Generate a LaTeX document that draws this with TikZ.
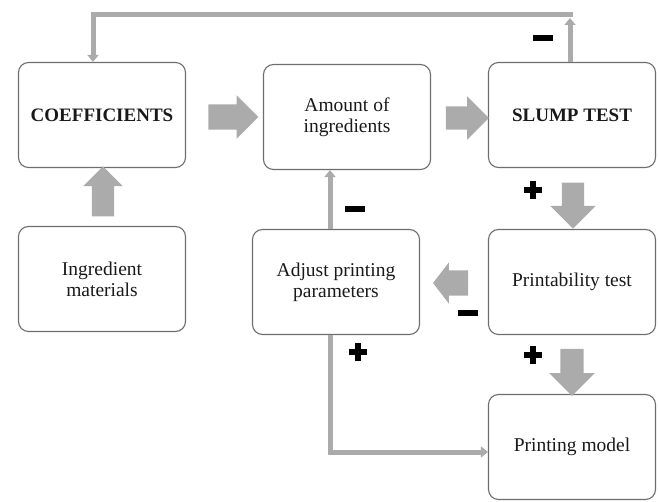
\documentclass[tikz,border=0pt]{standalone}
\usepackage{fontspec}
\setmainfont{Liberation Serif}
\usetikzlibrary{shapes.arrows,arrows.meta}
\definecolor{arrowgray}{HTML}{ABABAB}
\definecolor{boxgray}{HTML}{6E6E6E}
\tikzset{
  box/.style={draw=boxgray, line width=1.1pt, rounded corners=10pt, minimum width=167pt, minimum height=105pt, inner sep=2pt, align=center, font=\fontsize{19.5}{21}\selectfont, text=black!90},
  boldbox/.style={box, font=\bfseries\fontsize{19}{21}\selectfont},
  bigarrow/.style 2 args={single arrow, fill=arrowgray, draw=none, inner sep=#2, single arrow head extend=#1},
  conn/.style={draw=arrowgray, line width=5pt, -{Triangle[width=11pt,length=7pt]}},
  plussign/.pic={\fill[black] (-9,-2.8) rectangle (9,2.8); \fill[black] (-2.8,-9) rectangle (2.8,9);},
  minussign/.pic={\fill[black] (-10,-2.8) rectangle (10,2.8);}
}
\begin{document}
\begin{tikzpicture}[x=1pt,y=-1pt]
\useasboundingbox (0,0) rectangle (658,502);
% boxes
\node[boldbox] (coef) at (102,115) {COEFFICIENTS};
\node[box] (amount) at (347,117) {Amount of\\ingredients};
\node[boldbox] (slump) at (572,115) {SLUMP TEST};
\node[box] (ingr) at (102,279) {Ingredient\\materials};
\node[box] (adj) at (336,282) {Adjust printing\\parameters};
\node[box] (print) at (572,282) {Printability test};
\node[box] (model) at (572,447) {Printing model};
% block arrows
\node[bigarrow={9pt}{12.5pt}, minimum height=50pt, minimum width=43pt] (a1) at (227,117) {};
\node[bigarrow={10pt}{11.5pt}, minimum height=43pt, minimum width=43pt] (a2) at (461.5,118) {};
\node[bigarrow={11.5pt}{11pt}, minimum height=46pt, minimum width=45pt, shape border rotate=270] (a3) at (573,200) {};
\node[bigarrow={11pt}{11.5pt}, minimum height=47pt, minimum width=45pt, shape border rotate=270] (a4) at (572,366.5) {};
\node[bigarrow={8.5pt}{11pt}, minimum height=50pt, minimum width=39pt, shape border rotate=90] (a5) at (103,197) {};
\node[bigarrow={8pt}{12.5pt}, minimum height=35pt, minimum width=41pt, shape border rotate=180, single arrow tip angle=105] (a6) at (455.5,283) {};
% feedback connectors
\coordinate (tr) at (570,15);
\coordinate (c1) at (330,0);
\draw[conn] (slump.north -| tr) -- ([yshift=-3pt]tr);
\draw[conn] ([xshift=2.5pt]tr) -| ([xshift=-9pt]coef.north);
\draw[conn] (adj.north -| c1) -- (amount.south -| c1);
\draw[conn] (adj.south -| c1) |- ([yshift=-5pt]model.west);
% signs
\pic at (543,38) {minussign};
\pic at (533,190) {plussign};
\pic at (533,355) {plussign};
\pic at (468,313) {minussign};
\pic at (355,209) {minussign};
\pic at (358,352) {plussign};
\end{tikzpicture}
\end{document}
